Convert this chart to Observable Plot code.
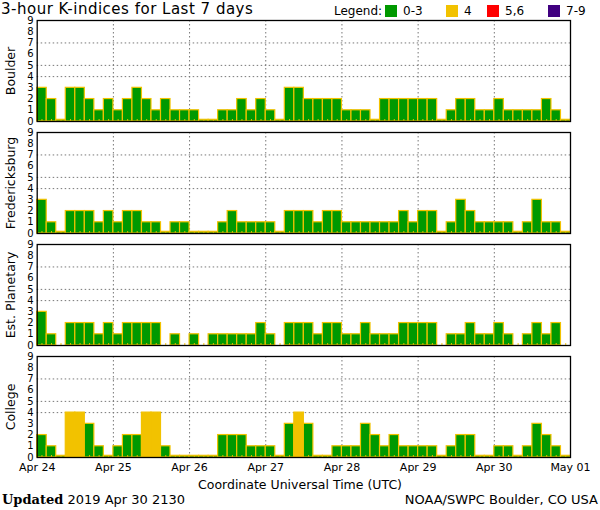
<!DOCTYPE html>
<html>
<head>
<meta charset="utf-8">
<script src="https://cdn.jsdelivr.net/npm/d3@7"></script>
<script src="https://cdn.jsdelivr.net/npm/@observablehq/plot@0.6"></script>
<style>
  html, body { margin: 0; padding: 0; background: #fff; }
  #wrap { position: relative; width: 600px; height: 510px; overflow: hidden; font-family: "DejaVu Sans", sans-serif; color: #000; }
  #chart { position: absolute; left: 0; top: 0; }
  .abs { position: absolute; white-space: nowrap; line-height: 1; }
  .sw { position: absolute; width: 12px; height: 12px; }
</style>
</head>
<body>
<div id="wrap">
  <div id="chart"></div>
  <div class="abs" id="title" style="left:1px; top:1.5px; font-size:15px; letter-spacing:0.5px;"></div>
  <div id="legend"></div>
  <div class="abs" id="xtitle" style="left:0; width:600px; text-align:center; top:479px; font-size:12.5px;"></div>
  <div class="abs" id="updated" style="left:2px; top:493px; font-size:13px;"></div>
  <div class="abs" id="credit" style="right:2px; top:493px; font-size:13px;"></div>
</div>
<script>
// ---- data ----
const titleText = "3-hour K-indices for Last 7 days";
const stations = ["Boulder", "Fredericksburg", "Est. Planetary", "College"];
const boulder = [3,2,0,3,3,2,1,2, 1,2,3,2,1,2,1,1, 1,0,0,1,1,2,1,2, 1,0,3,3,2,2,2,2, 1,1,1,0,2,2,2,2, 2,2,0,1,2,2,1,1, 2,1,1,1,1,2,1,0];
const fredericksburg = [3,1,0,2,2,2,1,2, 1,2,2,1,1,0,1,1, 0,0,0,1,2,1,1,1, 1,0,2,2,2,1,2,2, 1,1,1,1,1,1,2,1, 2,2,0,1,3,2,1,1, 1,1,0,1,3,1,1,0];
const planetary = [3,1,0,2,2,2,1,2, 1,2,2,2,2,0,1,0, 1,0,1,1,1,1,1,2, 1,0,2,2,2,1,2,2, 1,1,2,1,1,1,2,2, 2,2,0,1,1,2,1,1, 2,1,0,1,2,1,2,0];
const college = [2,1,0,4,4,3,1,0, 1,2,2,4,4,1,0,0, 0,0,0,2,2,2,1,1, 1,0,3,4,3,0,0,1, 1,1,3,2,1,2,1,1, 1,1,0,1,2,2,0,0, 1,1,0,1,3,2,1,0];
const dayLabels = ["Apr 24","Apr 25","Apr 26","Apr 27","Apr 28","Apr 29","Apr 30","May 01"];
const yTicks = [0,1,2,3,4,5,6,7,8,9];
const gridY = [4,5,7];
const legendLabels = ["0-3","4","5,6","7-9"];
const legendThresholds = [4,5,7];
const xTitle = "Coordinate Universal Time (UTC)";
const updatedLabel = "Updated";
const updatedText = "2019 Apr 30 2130";
const creditText = "NOAA/SWPC Boulder, CO USA";

// ---- styling ----
const colors = ["#009900", "#f2c200", "#ff0000", "#400080"];
const edge = "#f2c200";
const stubPanels = new Set(["Boulder", "Fredericksburg", "College"]);

const series = [boulder, fredericksburg, planetary, college];
const table = [];
stations.forEach((s, k) => series[k].forEach((v, i) => table.push({station: s, i, v})));
const nBars = boulder.length;
const yTop = yTicks[yTicks.length - 1];

const chart = Plot.plot({
  width: 600,
  height: 482,
  marginLeft: 36.7,
  marginRight: 30,
  marginTop: 19.3,
  marginBottom: 23.7,
  style: {fontFamily: "DejaVu Sans, sans-serif", fontSize: "10px", color: "#000", background: "transparent"},
  x: {domain: [0, nBars], axis: null},
  y: {domain: [0, yTop], axis: null},
  fy: {domain: stations, paddingInner: 0.095, paddingOuter: 0, axis: null, label: null},
  color: {type: "threshold", domain: legendThresholds, range: colors},
  marks: [
    Plot.ruleY(gridY, {stroke: "#777", strokeDasharray: "1.5,2.5", strokeWidth: 1}),
    Plot.ruleX(d3.range(8, nBars, 8), {stroke: "#777", strokeDasharray: "1.5,2.5", strokeWidth: 1}),
    Plot.rect(table, {
      x1: "i",
      x2: d => d.i + 1,
      y1: 0,
      y2: d => (d.v === 0 && stubPanels.has(d.station)) ? 0.15 : d.v,
      fy: "station",
      fill: "v",
      stroke: edge,
      strokeWidth: 1.2
    }),
    Plot.ruleX(d3.range(0, nBars), {x: d => d + 0.5, y1: 0, y2: 0.17, stroke: edge, strokeWidth: 1}),
    Plot.frame({stroke: "#000", strokeWidth: 1.3}),
    Plot.axisY({ticks: yTicks, tickSize: 0, tickPadding: 3.5, label: null, fontSize: 10}),
    Plot.axisX({ticks: d3.range(0, nBars + 1, 8), tickFormat: i => dayLabels[i / 8], tickSize: 0, tickPadding: 6, label: null, fontSize: 11}),
    Plot.text(stations, {fy: d => d, text: d => d, frameAnchor: "left", textAnchor: "middle", rotate: -90, dx: -26, fontSize: 12.5, fill: "#000"})
  ]
});
document.getElementById("chart").appendChild(chart);

// ---- texts ----
document.getElementById("title").textContent = titleText;
document.getElementById("xtitle").textContent = xTitle;
document.getElementById("updated").innerHTML = `<b style="font-family:'DejaVu Serif',serif; font-size:13px;">${updatedLabel}</b> ${updatedText}`;
document.getElementById("credit").textContent = creditText;

// ---- legend ----
const legend = document.getElementById("legend");
const lg = document.createElement("div");
lg.className = "abs"; lg.style.left = "334px"; lg.style.top = "5px"; lg.style.fontSize = "12px";
lg.textContent = "Legend:";
legend.appendChild(lg);
const swX = [385, 446, 487, 548];
legendLabels.forEach((t, k) => {
  const sw = document.createElement("div");
  sw.className = "sw"; sw.style.left = swX[k] + "px"; sw.style.top = "5px"; sw.style.background = colors[k];
  legend.appendChild(sw);
  const tx = document.createElement("div");
  tx.className = "abs"; tx.style.left = (swX[k] + 18) + "px"; tx.style.top = "5px"; tx.style.fontSize = "12px";
  tx.textContent = t;
  legend.appendChild(tx);
});
</script>
</body>
</html>
